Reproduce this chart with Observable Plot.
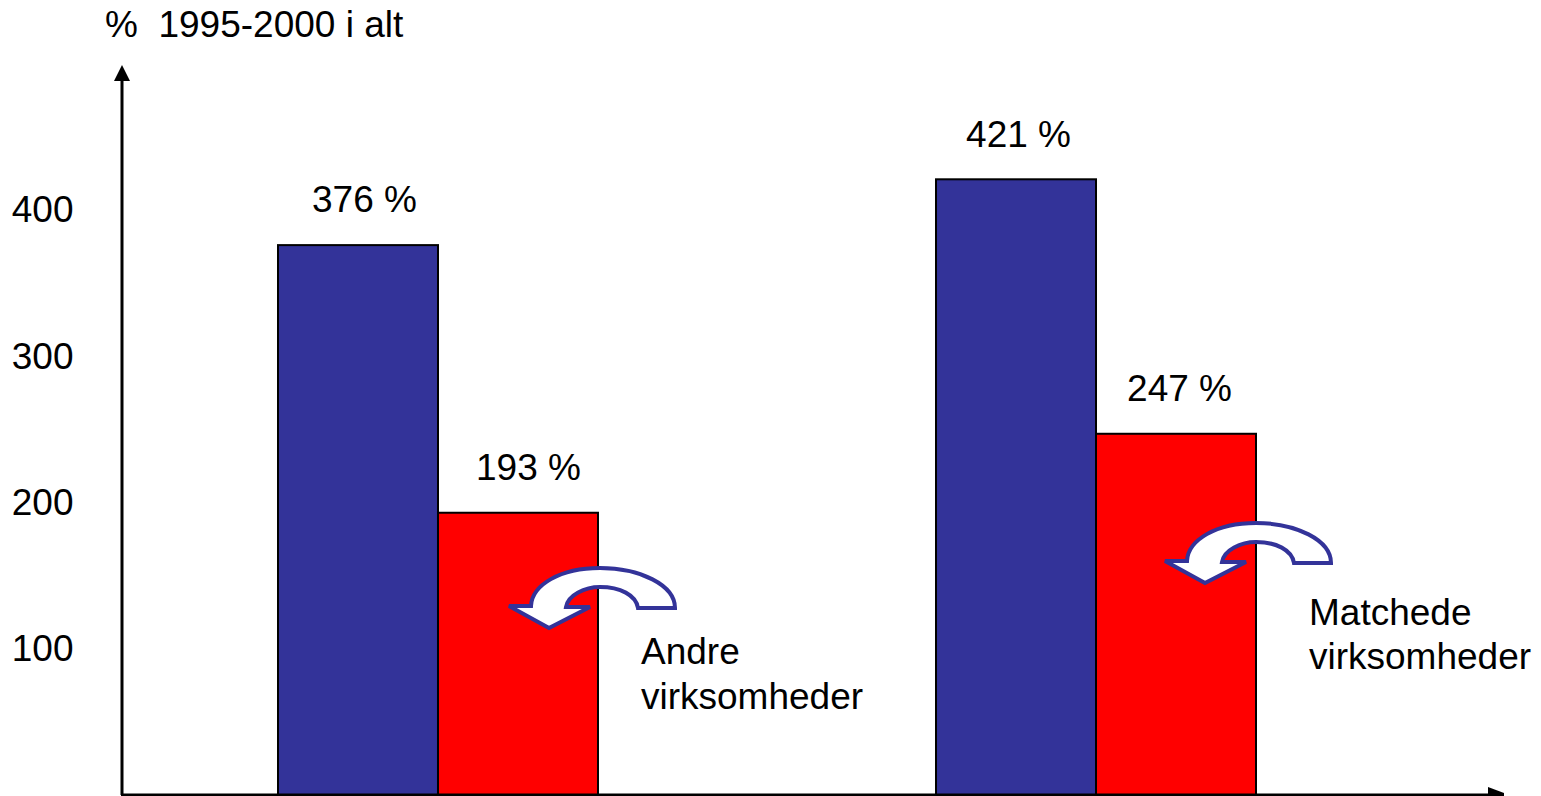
<!DOCTYPE html>
<html>
<head>
<meta charset="utf-8">
<style>html,body{margin:0;padding:0;background:#fff;overflow:hidden}svg{display:block}</style>
<script src="https://cdn.jsdelivr.net/npm/d3@7"></script>
<script src="https://cdn.jsdelivr.net/npm/@observablehq/plot@0.6"></script>
</head>
<body>
<script>
const groups = ["Andre virksomheder", "Matchede virksomheder"];
const seriesNames = ["Første", "Anden"];
const firstValues = [376, 421];
const secondValues = [193, 247];
const yTicks = [100, 200, 300, 400];
const axisCaption = "%  1995-2000 i alt";
const noteLines = [["Andre", "virksomheder"], ["Matchede", "virksomheder"]];

const rows = groups.flatMap((group, i) => [
  {group, series: seriesNames[0], value: firstValues[i]},
  {group, series: seriesNames[1], value: secondValues[i]}
]);

const font = "'Liberation Sans', Arial, sans-serif";
const fs = 37;
const labelNudge = {376: 6, 193: 10, 421: 2, 247: 3};

const chart = Plot.plot({
  width: 1541, height: 796,
  marginTop: 0, marginBottom: 1, marginLeft: 278, marginRight: 285,
  style: {fontFamily: font, fontSize: fs + "px", color: "#000", background: "#fff", overflow: "visible"},
  fx: {domain: groups, paddingInner: 0.5137, paddingOuter: 0, axis: null, label: null, round: false},
  x: {domain: seriesNames, padding: 0, axis: null, round: false},
  y: {domain: [0, 543.6], axis: null},
  color: {domain: seriesNames, range: ["#333399", "#ff0000"]},
  marks: [
    Plot.barY(rows, {fx: "group", x: "series", y: "value", fill: "series", stroke: "#000", strokeWidth: 2}),
    ...rows.map(r => Plot.text([r], {
      fx: "group", x: "series", y: "value", text: d => d.value + " %",
      dy: -45, dx: labelNudge[r.value], fontSize: fs, fill: "#000"
    })),
    Plot.axisY({ticks: yTicks, anchor: "left", tickSize: 0, tickPadding: 205, label: null, fontSize: fs, fill: "#000", tickFormat: d => String(d)})
  ]
});

const svg = d3.select(chart);
const over = svg.append("g");
const ink = "#000";
over.append("line").attr("x1", 122).attr("x2", 122).attr("y1", 795).attr("y2", 76).attr("stroke", ink).attr("stroke-width", 3);
over.append("line").attr("x1", 121).attr("x2", 1492).attr("y1", 795).attr("y2", 795).attr("stroke", ink).attr("stroke-width", 3);
over.append("path").attr("d", "M122 65 L114 81 L130 81 Z").attr("fill", ink);
over.append("path").attr("d", "M1488 787 L1504 793 L1504 796 L1488 796 Z").attr("fill", ink);

const arrowPath = "M675 608 C675 585 640 568 600 568 C560 568 532 585 531 606 L509 606 L549 628 L590 607 L566 607 C568 595 585 587 600 587 C620 587 636 595 638 608 Z";
[[0, 0], [656, -45]].forEach(([tx, ty]) => {
  over.append("path").attr("d", arrowPath).attr("transform", `translate(${tx},${ty})`)
    .attr("fill", "#fff").attr("stroke", "#333399").attr("stroke-width", 4).attr("stroke-linejoin", "miter");
});

const addText = (x, y, s) => over.append("text").attr("x", x).attr("y", y).attr("dy", "0.35em")
  .attr("text-anchor", "start").attr("font-family", font).attr("font-size", fs).attr("fill", ink)
  .style("white-space", "pre").text(s);
addText(105, 24, axisCaption);
addText(641, 651, noteLines[0][0]);
addText(641, 696, noteLines[0][1]);
addText(1309, 612, noteLines[1][0]);
addText(1309, 656, noteLines[1][1]);

document.body.appendChild(chart);
</script>
</body>
</html>
